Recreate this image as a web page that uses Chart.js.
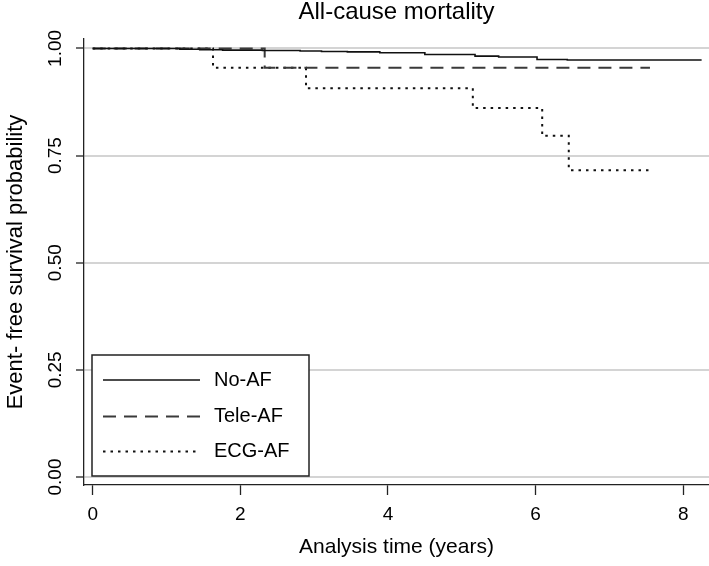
<!DOCTYPE html>
<html>
<head>
<meta charset="utf-8">
<script src="https://cdn.jsdelivr.net/npm/chart.js@4.4.1/dist/chart.umd.min.js"></script>
<style>
  html, body { margin: 0; padding: 0; background: #fff; }
  #wrap { width: 709px; height: 566px; }
</style>
</head>
<body>
<div id="wrap"><canvas id="km"></canvas></div>
<script>
// Kaplan-Meier curves, all-cause mortality

const titleText = "All-cause mortality";
const xTitle = "Analysis time (years)";
const yTitle = "Event- free survival probability";

const xTicks = [0, 2, 4, 6, 8];
const yTicks = [0, 0.25, 0.5, 0.75, 1];

const seriesNames = ["No-AF", "Tele-AF", "ECG-AF"];

// No-AF
const noAfTimes = [0, 1.18, 1.45, 1.76, 2.3, 2.81, 3.1, 3.45, 3.89, 4.5, 5.18, 5.5, 6.02, 6.43, 8.25];
const noAfSurv = [1, 0.998, 0.997, 0.996, 0.995, 0.994, 0.993, 0.992, 0.990, 0.986, 0.982, 0.980, 0.974, 0.973, 0.973];

// Tele-AF
const teleTimes = [0, 2.33, 7.55];
const teleSurv = [1, 0.955, 0.955];

// ECG-AF
const ecgTimes = [0, 1.63, 2.89, 5.15, 6.09, 6.45, 7.53];
const ecgSurv = [1, 0.955, 0.907, 0.861, 0.796, 0.716, 0.716];

const toPoints = (times, surv) => times.map((t, i) => ({ x: t, y: surv[i] }));

const FONT = "'Liberation Sans', Arial, sans-serif";

const extras = {
  id: "extras",
  afterDatasetsDraw(chart) {
    const { ctx, chartArea, scales } = chart;
    ctx.save();

    // title
    ctx.fillStyle = "#000";
    ctx.font = `24px ${FONT}`;
    ctx.textAlign = "center";
    ctx.textBaseline = "middle";
    ctx.fillText(titleText, (chartArea.left + chartArea.right) / 2, 12);

    // rotated y tick labels
    ctx.font = `19px ${FONT}`;
    yTicks.forEach((v) => {
      const y = scales.y.getPixelForValue(v);
      ctx.save();
      ctx.translate(56, y);
      ctx.rotate(-Math.PI / 2);
      ctx.fillText(v.toFixed(2), 0, 0);
      ctx.restore();
    });

    // legend box
    const bx = 92, by = 355, bw = 217, bh = 121;
    ctx.fillStyle = "#fff";
    ctx.fillRect(bx, by, bw, bh);
    ctx.strokeStyle = "#222";
    ctx.lineWidth = 1.5;
    ctx.strokeRect(bx, by, bw, bh);
    const rows = [380, 416.5, 451.5];
    chart.data.datasets.forEach((ds, i) => {
      ctx.save();
      ctx.strokeStyle = ds.borderColor;
      ctx.lineWidth = ds.borderWidth;
      ctx.setLineDash(ds.borderDash || []);
      ctx.beginPath();
      ctx.moveTo(103, rows[i]);
      ctx.lineTo(200, rows[i]);
      ctx.stroke();
      ctx.restore();
      ctx.fillStyle = "#000";
      ctx.font = `20px ${FONT}`;
      ctx.textAlign = "left";
      ctx.textBaseline = "middle";
      ctx.fillText(ds.label, 214, rows[i]);
    });

    ctx.restore();
  },
};

new Chart(document.getElementById("km"), {
  type: "line",
  data: {
    datasets: [
      {
        label: seriesNames[0],
        data: toPoints(noAfTimes, noAfSurv),
        borderColor: "#111",
        borderWidth: 1.6,
        stepped: true,
        pointRadius: 0,
      },
      {
        label: seriesNames[1],
        data: toPoints(teleTimes, teleSurv),
        borderColor: "#3a3a3a",
        borderWidth: 2,
        borderDash: [13, 8],
        stepped: true,
        pointRadius: 0,
      },
      {
        label: seriesNames[2],
        data: toPoints(ecgTimes, ecgSurv),
        borderColor: "#111",
        borderWidth: 2,
        borderDash: [2.5, 5],
        stepped: true,
        pointRadius: 0,
      },
    ],
  },
  options: {
    responsive: true,
    maintainAspectRatio: false,
    animation: false,
    layout: { padding: { top: 39, right: 0, bottom: 0, left: 0 } },
    plugins: {
      legend: { display: false },
      tooltip: { enabled: false },
    },
    scales: {
      x: {
        type: "linear",
        min: -0.118,
        max: 8.35,
        afterBuildTicks: (scale) => {
          scale.ticks = xTicks.map((v) => ({ value: v }));
        },
        afterFit: (scale) => {
          scale.height = 81;
        },
        ticks: {
          color: "#000",
          font: { family: FONT, size: 19 },
          padding: 8,
          maxRotation: 0,
        },
        grid: {
          drawOnChartArea: false,
          tickColor: "#222",
          tickLength: 10,
          tickWidth: 1.3,
        },
        border: { color: "#222", width: 1.3 },
        title: {
          display: true,
          text: xTitle,
          color: "#000",
          font: { family: FONT, size: 21 },
          padding: { top: 0, bottom: 6 },
        },
      },
      y: {
        type: "linear",
        min: -0.0187,
        max: 1.022,
        afterBuildTicks: (scale) => {
          scale.ticks = yTicks.map((v) => ({ value: v }));
        },
        afterFit: (scale) => {
          scale.width = 84;
        },
        ticks: { display: false },
        grid: {
          color: "#d4d4d4",
          lineWidth: 2,
          tickColor: "#222",
          tickLength: 8,
          tickWidth: 1.3,
        },
        border: { color: "#222", width: 1.3 },
        title: {
          display: true,
          text: yTitle,
          color: "#000",
          font: { family: FONT, size: 22 },
          padding: { top: 3, bottom: 4 },
        },
      },
    },
  },
  plugins: [extras],
});
</script>
</body>
</html>
